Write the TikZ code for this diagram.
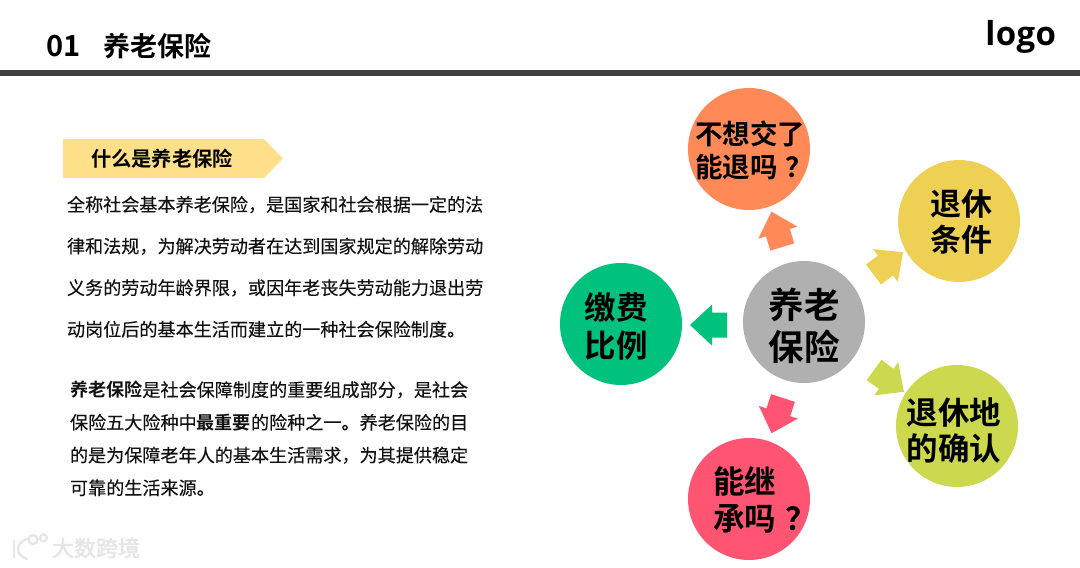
\documentclass[tikz,border=0pt]{standalone}
\usepackage{fontspec}
\setmainfont[FakeBold=0.2]{Noto Sans CJK SC}
\newfontfamily\bfcjk{Noto Sans CJK SC Bold}
\newfontfamily\latinlogo[LetterSpace=1]{Open Sans Bold}
\newfontfamily\wmfont[FakeBold=2.5]{Noto Sans CJK SC}
\definecolor{ink}{HTML}{111111}
\definecolor{cgray}{HTML}{B0B0B0}
\definecolor{corange}{HTML}{FF8A57}
\definecolor{cyellow}{HTML}{EED055}
\definecolor{clime}{HTML}{CCD94F}
\definecolor{cpink}{HTML}{FF5572}
\definecolor{cgreen}{HTML}{00C27C}
\definecolor{ctag}{HTML}{FFE08A}
\definecolor{crule}{HTML}{404040}
\definecolor{cwm}{HTML}{E6E6E6}
\newcommand{\fsz}[2]{\fontsize{#1}{#2}\selectfont}
\newcommand{\qm}{\kern.28em？}
\tikzset{
  x=1pt,y=-1pt,
  bubble/.style={circle,minimum size=122pt,inner sep=0pt,outer sep=0pt},
  lab/.style={inner sep=0pt,outer sep=0pt,align=left,text=black},
  body/.style={inner sep=0pt,outer sep=0pt,align=left,anchor=north west,text=ink},
  barrow/.pic={\path[pic actions] (0,-12.5) -- (15,-12.5) -- (15,-20.5) -- (37,0) -- (15,20.5) -- (15,12.5) -- (0,12.5) -- cycle;}
}
\begin{document}
\begin{tikzpicture}
\useasboundingbox (0,0) rectangle (1080,568);
% header
\fill[crule] (0,70) rectangle (1080,76);
\node[lab,anchor=west,font=\bfcjk\fsz{27}{30}] (title) at (46,46) {{\fsz{29}{30}01}\hspace{23pt}养老保险};
\node[lab,anchor=base east,font=\latinlogo\fsz{33}{36}] (logo) at (1056,45) {logo};
% tag
\fill[ctag] (63,139) -- (264,139) -- (283,158.5) -- (264,178) -- (63,178) -- cycle;
\node[lab,anchor=west,font=\bfcjk\fsz{20.3}{24}] (tag) at (91,159) {什么是养老保险};
% text
\node[body,font=\fsz{18.1}{41.6}] (para1) at (67,196) {全称社会基本养老保险，是国家和社会根据一定的法\\
律和法规，为解决劳动者在达到国家规定的解除劳动\\
义务的劳动年龄界限，或因年老丧失劳动能力退出劳\\
动岗位后的基本生活而建立的一种社会保险制度。};
\node[body,font=\fsz{18.1}{32.7}] (para2) at (70,381) {{\bfcjk 养老保险}是社会保障制度的重要组成部分，是社会\\
保险五大险种中{\bfcjk 最重要}的险种之一。养老保险的目\\
的是为保障老年人的基本生活需求，为其提供稳定\\
可靠的生活来源。};
% bubbles
\node[bubble,fill=cgray] (hub) at (804,322) {};
\node[bubble,fill=corange] (q1) at (749,149) {};
\node[bubble,fill=cyellow] (q2) at (959,221) {};
\node[bubble,fill=clime] (q3) at (957,426) {};
\node[bubble,fill=cpink] (q4) at (749,499) {};
\node[bubble,fill=cgreen] (q5) at (621,324) {};
\node[lab,font=\bfcjk\fsz{35.5}{42}] (thub) at (804,326) {养老\\保险};
\node[lab,font=\bfcjk\fsz{27.5}{33}] (t1) at (754,150) {不想交了\\能退吗\qm};
\node[lab,font=\bfcjk\fsz{31}{36}] (t2) at (961,222) {退休\\条件};
\node[lab,font=\bfcjk\fsz{31.5}{36}] (t3) at (954,431) {退休地\\的确认};
\node[lab,font=\bfcjk\fsz{31.5}{37}] (t4) at (765,500) {能继\\承吗\qm};
\node[lab,font=\bfcjk\fsz{31.5}{38}] (t5) at (616,326) {缴费\\比例};
% arrows
\pic[fill=corange,rotate=107] at (782.3,247) {barrow};
\pic[fill=cyellow,rotate=37] at (873.5,274.5) {barrow};
\pic[fill=clime,rotate=-36] at (874,370) {barrow};
\pic[fill=cpink,rotate=252] at (783,398) {barrow};
\pic[fill=cgreen,rotate=180] at (727,325) {barrow};
% watermark
\begin{scope}[draw=cwm,line width=2.4pt,line cap=round]
\draw (14,541) -- (14,557);
\draw (27,539) .. controls (15,543) and (15,555) .. (27,559);
\draw (33,539.5) circle (4.5);
\draw (43.5,538) circle (3.5);
\end{scope}
\node[lab,anchor=west,text=cwm,font=\wmfont\fsz{22}{24}] (wm) at (52,548) {大数跨境};
\end{tikzpicture}
\end{document}
